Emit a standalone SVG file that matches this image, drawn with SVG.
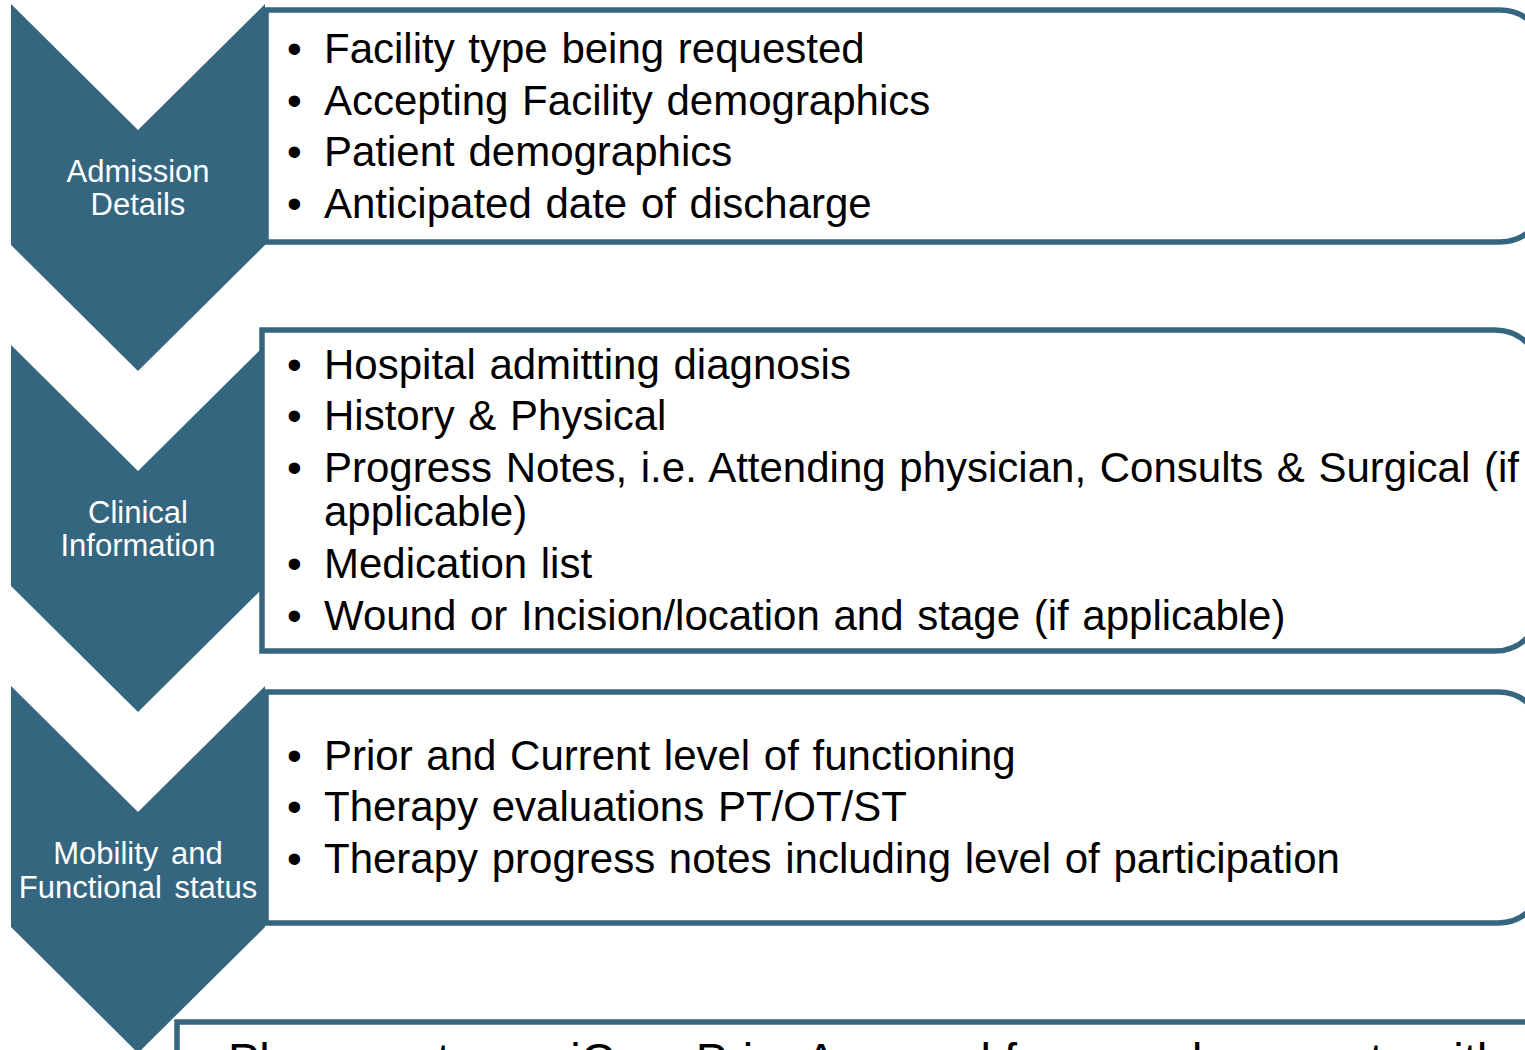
<svg xmlns="http://www.w3.org/2000/svg" width="1525" height="1050" viewBox="0 0 1525 1050">
  <style>
    .chev { fill: #35667f; }
    .box { fill: #ffffff; stroke: #35667f; stroke-width: 5.5; }
    .lbl { font-family: "Liberation Sans", Arial, sans-serif; font-size: 31px; fill: #ffffff; text-anchor: middle; }
    .item { font-family: "Liberation Sans", Arial, sans-serif; font-size: 42px; fill: #000000; word-spacing: 2px; }
    .note { font-family: "Liberation Sans", Arial, sans-serif; font-size: 47px; fill: #000000; }
  </style>

  <rect width="1525" height="1050" fill="#ffffff"/>

  <!-- step chevrons -->
  <g id="step-admission">
    <path class="chev" d="M11,4 L138,130 L265,4 L265,245 L138,371 L11,245 Z"/>
    <text class="lbl" x="138" y="182">Admission</text>
    <text class="lbl" x="138" y="215">Details</text>
  </g>
  <g id="step-clinical">
    <path class="chev" d="M11,345 L138,471 L265,345 L265,586 L138,712 L11,586 Z"/>
    <text class="lbl" x="138" y="523">Clinical</text>
    <text class="lbl" x="138" y="556">Information</text>
  </g>
  <g id="step-mobility">
    <path class="chev" d="M11,686 L138,812 L265,686 L265,927 L138,1053 L11,927 Z"/>
    <text class="lbl" x="138" y="864" word-spacing="4">Mobility and</text>
    <text class="lbl" x="138" y="898" word-spacing="4">Functional status</text>
  </g>

  <!-- detail panels -->
  <g id="panel-admission">
    <path class="box" d="M266,10 H1500 A46,46 0 0 1 1546,56 V196 A46,46 0 0 1 1500,242 H266 Z"/>
    <g class="item">
      <text x="287" y="63">•</text><text x="324" y="63">Facility type being requested</text>
      <text x="287" y="115">•</text><text x="324" y="115">Accepting Facility demographics</text>
      <text x="287" y="166">•</text><text x="324" y="166">Patient demographics</text>
      <text x="287" y="218">•</text><text x="324" y="218">Anticipated date of discharge</text>
    </g>
  </g>
  <g id="panel-clinical">
    <path class="box" d="M262,330 H1495 A46,46 0 0 1 1541,376 V605 A46,46 0 0 1 1495,651 H262 Z"/>
    <g class="item">
      <text x="287" y="379">•</text><text x="324" y="379">Hospital admitting diagnosis</text>
      <text x="287" y="430">•</text><text x="324" y="430">History &amp; Physical</text>
      <text x="287" y="482">•</text><text x="324" y="482">Progress Notes, i.e. Attending physician, Consults &amp; Surgical (if</text>
      <text x="324" y="526">applicable)</text>
      <text x="287" y="578">•</text><text x="324" y="578">Medication list</text>
      <text x="287" y="630">•</text><text x="324" y="630">Wound or Incision/location and stage (if applicable)</text>
    </g>
  </g>
  <g id="panel-mobility">
    <path class="box" d="M266,692 H1498 A46,46 0 0 1 1544,738 V877 A46,46 0 0 1 1498,923 H266 Z"/>
    <g class="item">
      <text x="287" y="770">•</text><text x="324" y="770">Prior and Current level of functioning</text>
      <text x="287" y="821">•</text><text x="324" y="821">Therapy evaluations PT/OT/ST</text>
      <text x="287" y="873">•</text><text x="324" y="873">Therapy progress notes including level of participation</text>
    </g>
  </g>
  <g id="panel-approval">
    <path class="box" d="M177,1022 H1530 A46,46 0 0 1 1576,1068 V1200 H177 Z"/>
    <text class="note" x="228" y="1076">Please enter an iCare Prior Approval for your documents with clinicals</text>
  </g>

  <!-- connectors: the chevrons flow directly into one another -->
  <g id="connectors"></g>
</svg>
